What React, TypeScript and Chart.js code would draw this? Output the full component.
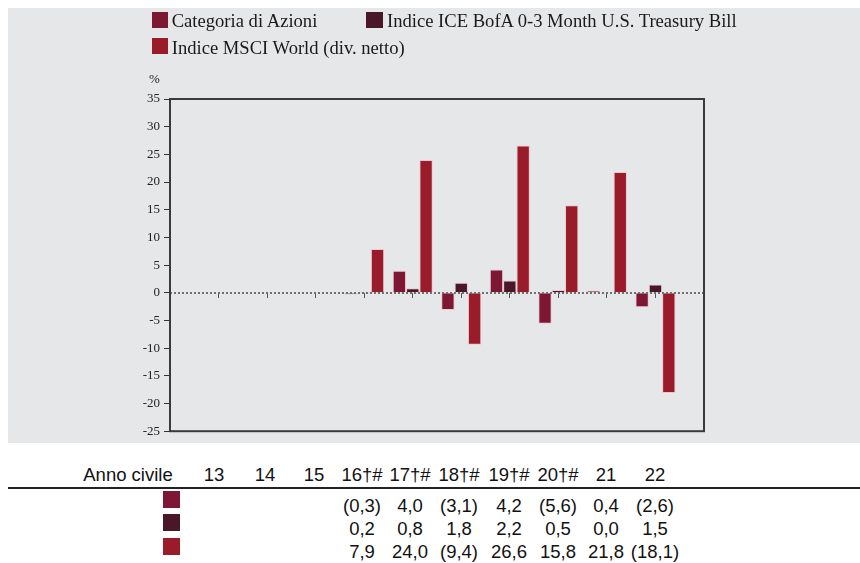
import React, { useEffect, useLayoutEffect, useRef } from "react";
import { Chart, registerables } from "chart.js";

Chart.register(...registerables);

// ---- data ----
const YEAR_LABELS = ["13", "14", "15", "16†#", "17†#", "18†#", "19†#", "20†#", "21", "22"];
const CATEGORIA = [null, null, null, -0.3, 4.0, -3.1, 4.2, -5.6, 0.4, -2.6];
const ICE_BOFA = [null, null, null, 0.2, 0.8, 1.8, 2.2, 0.5, 0.0, 1.5];
const MSCI_WORLD = [null, null, null, 7.9, 24.0, -9.4, 26.6, 15.8, 21.8, -18.1];
const SERIES_NAMES = [
  "Categoria di Azioni",
  "Indice ICE BofA 0-3 Month U.S. Treasury Bill",
  "Indice MSCI World (div. netto)",
];
const Y_MIN = -25;
const Y_MAX = 35;
const Y_STEP = 5;

// ---- styles ----
const COLORS = ["#7E1733", "#4A1729", "#9A1B29"];
const BORDER = "rgba(236,196,204,0.9)";
const BG = "#E6E7E9";
const COL_CENTERS = [206, 257, 306, 354, 402, 451, 501, 550, 598, 647];

function fmt(v: number | null): string {
  if (v === null || v === undefined) return "";
  const s = Math.abs(v).toFixed(1).replace(".", ",");
  return v < 0 ? `(${s})` : s;
}

const framePlugin = {
  id: "frame",
  afterDatasetsDraw(chart: any) {
    const { ctx, chartArea, scales } = chart;
    const y0 = Math.round(scales.y.getPixelForValue(0));
    ctx.save();
    ctx.strokeStyle = "#707070";
    ctx.lineWidth = 2;
    ctx.setLineDash([2, 2]);
    ctx.beginPath();
    ctx.moveTo(chartArea.left, y0);
    ctx.lineTo(chartArea.right, y0);
    ctx.stroke();
    ctx.restore();
  },
  afterDraw(chart: any) {
    const { ctx, chartArea } = chart;
    ctx.save();
    ctx.strokeStyle = "#3a3a3a";
    ctx.lineWidth = 2;
    ctx.strokeRect(chartArea.left, chartArea.top, chartArea.right - chartArea.left, chartArea.bottom - chartArea.top);
    ctx.restore();
  },
};

export default function App() {
  const ref = useRef<HTMLCanvasElement | null>(null);

  useLayoutEffect(() => {
    document.body.style.margin = "0";
  }, []);

  useEffect(() => {
    if (!ref.current) return;
    const labels = ["", ...YEAR_LABELS, ""];
    const pad = (a: (number | null)[]) => [null, ...a, null];
    const series = [CATEGORIA, ICE_BOFA, MSCI_WORLD];
    const chart = new Chart(ref.current, {
      type: "bar",
      data: {
        labels,
        datasets: series.map((s, i) => ({
          label: SERIES_NAMES[i],
          data: pad(s),
          backgroundColor: COLORS[i],
          borderColor: BORDER,
          borderWidth: 1,
          categoryPercentage: 0.825,
          barPercentage: 1,
        })),
      },
      options: {
        animation: false,
        responsive: false,
        devicePixelRatio: 1,
        layout: { padding: { top: 91, left: 0, right: 156, bottom: 11 } },
        plugins: { legend: { display: false }, tooltip: { enabled: false } },
        scales: {
          x: {
            type: "category",
            position: { y: 0 } as any,
            offset: false,
            z: 1,
            ticks: { display: false },
            grid: {
              offset: false,
              drawOnChartArea: false,
              drawTicks: true,
              tickLength: 5,
              color: "#555",
              lineWidth: 1,
            },
            border: { display: false },
          },
          y: {
            min: Y_MIN,
            max: Y_MAX,
            afterFit: (s: any) => {
              s.width = 162;
            },
            ticks: {
              stepSize: Y_STEP,
              padding: 4,
              color: "#222",
              font: { family: "'Liberation Serif', serif", size: 13 },
              callback: (v: any) => String(v),
            },
            grid: {
              drawOnChartArea: false,
              drawTicks: true,
              tickLength: 6,
              color: "#333",
              lineWidth: 1,
            },
            border: { display: true, color: "#222", width: 2 },
          },
        },
      },
      plugins: [framePlugin],
    });
    return () => chart.destroy();
  }, []);

  const serif = "'Liberation Serif', 'Times New Roman', serif";
  const sans = "'Liberation Sans', Arial, sans-serif";
  const legendText: React.CSSProperties = {
    position: "absolute",
    fontFamily: serif,
    fontSize: 18.6,
    lineHeight: "18.6px",
    color: "#1a1a1a",
    whiteSpace: "nowrap",
  };
  const box = (left: number, top: number, color: string): React.CSSProperties => ({
    position: "absolute",
    left,
    top,
    width: 16.6,
    height: 16,
    background: color,
  });
  const cell = (cx: number, top: number): React.CSSProperties => ({
    position: "absolute",
    left: cx - 60,
    width: 120,
    top,
    textAlign: "center",
    fontFamily: sans,
    fontSize: 18.5,
    lineHeight: "18.5px",
    color: "#111",
    whiteSpace: "nowrap",
  });
  const rowTops = [488.7, 511.6, 534.8];
  const sqTops = [483, 506.3, 530.3];
  const rows = [CATEGORIA, ICE_BOFA, MSCI_WORLD];

  return (
    <div style={{ position: "relative", width: 860, height: 563, overflow: "hidden", background: "#fff" }}>
      <div style={{ position: "absolute", left: 8, top: 8, width: 852, height: 555 }}>
        <div style={{ position: "absolute", left: 0, top: 0, width: 852, height: 435, background: BG }}>
          <canvas ref={ref} width={852} height={435} style={{ display: "block" }} />
          <div style={box(143.7, 4.3, COLORS[0])} />
          <div style={{ ...legendText, left: 163.7, top: 3.8 }}>{SERIES_NAMES[0]}</div>
          <div style={box(358, 4.3, COLORS[1])} />
          <div style={{ ...legendText, left: 379, top: 3.8 }}>{SERIES_NAMES[1]}</div>
          <div style={box(143.7, 30.3, COLORS[2])} />
          <div style={{ ...legendText, left: 163.7, top: 30.8 }}>{SERIES_NAMES[2]}</div>
          <div
            style={{
              position: "absolute",
              left: 141,
              top: 64,
              fontFamily: serif,
              fontSize: 13,
              lineHeight: "13px",
              color: "#222",
            }}
          >
            %
          </div>
        </div>
        <div style={cell(120, 457.9)}>Anno civile</div>
        {YEAR_LABELS.map((l, i) => (
          <div key={"h" + i} style={cell(COL_CENTERS[i], 457.9)}>
            {l}
          </div>
        ))}
        <div style={{ position: "absolute", left: 0, top: 478.7, width: 852, height: 2, background: "#222" }} />
        {rows.map((r, ri) => (
          <React.Fragment key={"r" + ri}>
            <div
              style={{ position: "absolute", left: 154.7, top: sqTops[ri], width: 17, height: 17, background: COLORS[ri] }}
            />
            {r.map((v, i) => (
              <div key={"c" + ri + "-" + i} style={cell(COL_CENTERS[i], rowTops[ri])}>
                {fmt(v)}
              </div>
            ))}
          </React.Fragment>
        ))}
      </div>
    </div>
  );
}
